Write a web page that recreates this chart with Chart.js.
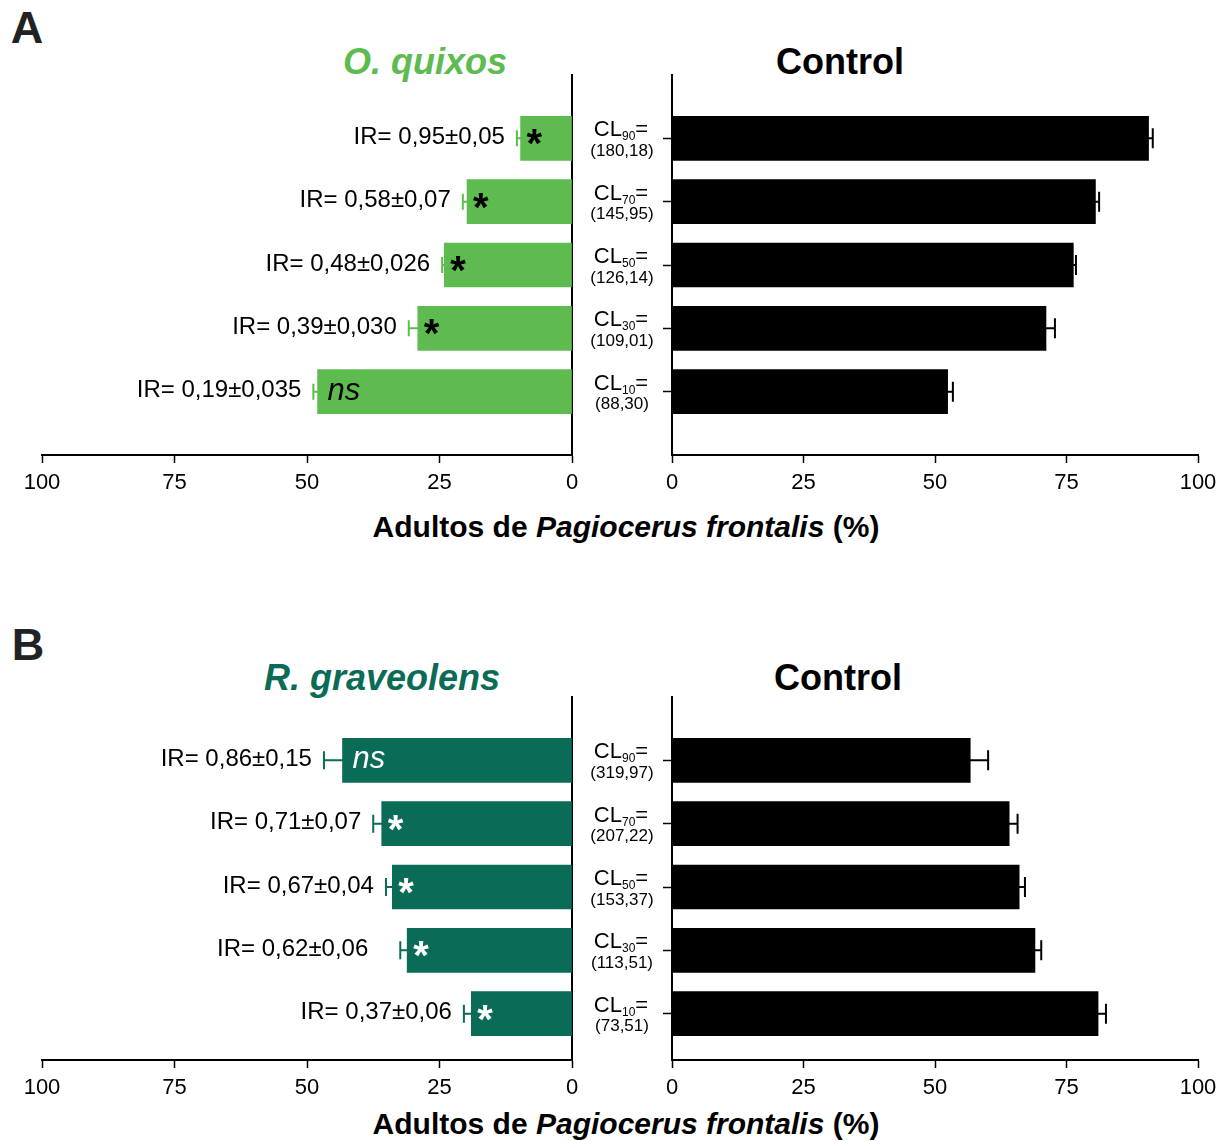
<!DOCTYPE html>
<html>
<head>
<meta charset="utf-8">
<script src="https://cdn.jsdelivr.net/npm/chart.js@4.4.1/dist/chart.umd.min.js"></script>
<style>
  html, body { margin:0; padding:0; background:#fff; }
  body { width:1230px; height:1141px; position:relative; overflow:hidden; font-family:'Liberation Sans', Arial, sans-serif; }
  canvas { position:absolute; }
  .t { position:absolute; transform:translate(-50%,-50%); white-space:nowrap; line-height:1; }
</style>
</head>
<body>
<div class="t" style="left:27px;top:27px;font-size:45px;font-weight:bold;color:#222;">A</div>
<div class="t" style="left:28px;top:644px;font-size:45px;font-weight:bold;color:#222;">B</div>
<div class="t" style="left:425px;top:62px;font-size:36px;font-weight:bold;font-style:italic;color:#5DBB4F;">O. quixos</div>
<div class="t" style="left:840px;top:62px;font-size:36px;font-weight:bold;color:#000;">Control</div>
<div class="t" style="left:382px;top:678px;font-size:36px;font-weight:bold;font-style:italic;color:#0A6B57;">R. graveolens</div>
<div class="t" style="left:838px;top:678px;font-size:36px;font-weight:bold;color:#000;">Control</div>
<div class="t" style="left:626px;top:527px;font-size:30px;font-weight:bold;color:#000;">Adultos de <i>Pagiocerus frontalis</i> (%)</div>
<div class="t" style="left:626px;top:1124px;font-size:30px;font-weight:bold;color:#000;">Adultos de <i>Pagiocerus frontalis</i> (%)</div>

<canvas id="aL" width="600" height="465" style="left:0px;top:40px;"></canvas>
<canvas id="aR" width="658" height="465" style="left:572px;top:40px;"></canvas>
<canvas id="bL" width="600" height="450" style="left:0px;top:660px;"></canvas>
<canvas id="bR" width="658" height="450" style="left:572px;top:660px;"></canvas>

<script>
// ---------- DATA ----------
const clSub = ['90', '70', '50', '30', '10'];
const xTicks = [0, 25, 50, 75, 100];

// Panel A: O. quixos
const clValsA = ['(180,18)', '(145,95)', '(126,14)', '(109,01)', '(88,30)'];
const irA = ['IR= 0,95±0,05', 'IR= 0,58±0,07', 'IR= 0,48±0,026', 'IR= 0,39±0,030', 'IR= 0,19±0,035'];
const sigA = ['*', '*', '*', '*', 'ns'];
const oilA = [9.7, 19.8, 24.1, 29.1, 48.0];
const oilAErr = [0.7, 0.8, 0.4, 1.7, 0.8];
const ctrlA = [90.6, 80.5, 76.3, 71.1, 52.4];
const ctrlAErr = [0.8, 0.7, 0.5, 1.7, 1.0];

// Panel B: R. graveolens
const clValsB = ['(319,97)', '(207,22)', '(153,37)', '(113,51)', '(73,51)'];
const irB = ['IR= 0,86±0,15', 'IR= 0,71±0,07', 'IR= 0,67±0,04', 'IR= 0,62±0,06   ', 'IR= 0,37±0,06'];
const sigB = ['ns', '*', '*', '*', '*'];
const oilB = [43.3, 35.9, 33.9, 31.1, 19.0];
const oilBErr = [3.5, 1.6, 1.2, 1.3, 1.4];
const ctrlB = [56.7, 64.1, 66.0, 69.0, 81.0];
const ctrlBErr = [3.4, 1.6, 1.1, 1.2, 1.5];

// ---------- STYLE ----------
const FONT = "'Liberation Sans', Arial, sans-serif";
const GREEN = '#5DBB4F';
const TEAL = '#0A6B57';

function errPlugin(vals, errs, color, capH) {
  return {
    id: 'err',
    afterDatasetsDraw(chart) {
      const ctx = chart.ctx, xs = chart.scales.x, ys = chart.scales.y;
      ctx.save();
      ctx.strokeStyle = color; ctx.lineWidth = 2;
      vals.forEach((v, i) => {
        const y = ys.getPixelForValue(i + 1);
        const x1 = xs.getPixelForValue(v - errs[i]);
        const x2 = xs.getPixelForValue(v + errs[i]);
        ctx.beginPath();
        ctx.moveTo(x1, y); ctx.lineTo(x2, y);
        ctx.moveTo(x1, y - capH / 2); ctx.lineTo(x1, y + capH / 2);
        ctx.moveTo(x2, y - capH / 2); ctx.lineTo(x2, y + capH / 2);
        ctx.stroke();
      });
      ctx.restore();
    }
  };
}

function leftLabels(vals, errs, ir, sig, sigColor) {
  return {
    id: 'leftLabels',
    afterDatasetsDraw(chart) {
      const ctx = chart.ctx, xs = chart.scales.x, ys = chart.scales.y;
      ctx.save();
      vals.forEach((v, i) => {
        const y = ys.getPixelForValue(i + 1);
        const xCap = xs.getPixelForValue(v + errs[i]);
        const xBar = xs.getPixelForValue(v);
        ctx.fillStyle = '#000';
        ctx.font = '24px ' + FONT;
        ctx.textAlign = 'right'; ctx.textBaseline = 'middle';
        ctx.fillText(ir[i], xCap - 12, y - 1);
        ctx.fillStyle = sigColor;
        ctx.textAlign = 'left'; ctx.textBaseline = 'alphabetic';
        if (sig[i] === '*') {
          ctx.font = 'bold 40px ' + FONT;
          ctx.fillText('*', xBar + 6, y + 19);
        } else {
          ctx.font = 'italic 31px ' + FONT;
          ctx.fillText(sig[i], xBar + 10, y + 8);
        }
      });
      ctx.restore();
    }
  };
}

function clLabels(vals) {
  return {
    id: 'clLabels',
    afterDatasetsDraw(chart) {
      const ctx = chart.ctx, ys = chart.scales.y;
      const cx = chart.chartArea.left - 51;
      ctx.save();
      ctx.fillStyle = '#000';
      vals.forEach((val, i) => {
        const y = ys.getPixelForValue(i + 1);
        ctx.textBaseline = 'alphabetic'; ctx.textAlign = 'left';
        ctx.font = '22px ' + FONT;
        const wCL = ctx.measureText('CL').width, wEq = ctx.measureText('=').width;
        ctx.font = '12px ' + FONT;
        const wSub = ctx.measureText(clSub[i]).width;
        let x = cx - (wCL + wSub + wEq) / 2;
        const base = y - 2;
        ctx.font = '22px ' + FONT; ctx.fillText('CL', x, base); x += wCL;
        ctx.font = '12px ' + FONT; ctx.fillText(clSub[i], x, base + 4); x += wSub;
        ctx.font = '22px ' + FONT; ctx.fillText('=', x, base);
        ctx.font = '17px ' + FONT; ctx.textAlign = 'center'; ctx.textBaseline = 'middle';
        ctx.fillText(val, cx + 1, y + 13);
      });
      ctx.restore();
    }
  };
}

function makeChart(id, vals, color, reverse, yMax, pad, yTicks, plugins) {
  return new Chart(document.getElementById(id), {
    type: 'bar',
    data: {
      datasets: [{
        data: vals.map((v, i) => ({ x: v, y: i + 1 })),
        backgroundColor: color,
        borderWidth: 0,
        barThickness: 44
      }]
    },
    options: {
      indexAxis: 'y',
      responsive: false,
      animation: false,
      events: [],
      layout: { padding: pad },
      plugins: { legend: { display: false }, tooltip: { enabled: false } },
      scales: {
        x: {
          type: 'linear', reverse: reverse, min: 0, max: 100, position: 'bottom',
          afterBuildTicks: s => { s.ticks = xTicks.map(v => ({ value: v })); },
          ticks: { color: '#000', font: { family: FONT, size: 22 }, padding: 7, maxRotation: 0 },
          grid: { drawOnChartArea: false, drawTicks: true, tickLength: 8, tickColor: '#000', tickWidth: 1.5 },
          border: { display: true, color: '#000', width: 2 },
          afterFit: s => { s.height = 50; }
        },
        y: {
          type: 'linear', reverse: true, min: 0, max: yMax, offset: false,
          position: reverse ? 'right' : 'left',
          afterBuildTicks: s => { s.ticks = vals.map((v, i) => ({ value: i + 1 })); },
          ticks: { display: false },
          grid: { display: yTicks, offset: false, drawOnChartArea: false, drawTicks: true, tickLength: 9, tickColor: '#000', tickWidth: 1.5 },
          border: { display: true, color: '#000', width: 2 },
          afterFit: s => { s.width = 0; }
        }
      }
    },
    plugins: plugins
  });
}

makeChart('aL', oilA, GREEN, true, 6, { left: 42, right: 28, top: 35, bottom: 0 }, false,
  [errPlugin(oilA, oilAErr, GREEN, 16), leftLabels(oilA, oilAErr, irA, sigA, '#000')]);
makeChart('aR', ctrlA, '#000', false, 6, { left: 100, right: 32, top: 35, bottom: 0 }, true,
  [errPlugin(ctrlA, ctrlAErr, '#000', 20), clLabels(clValsA)]);
makeChart('bL', oilB, TEAL, true, 363 / (380 / 6), { left: 42, right: 28, top: 37, bottom: 0 }, false,
  [errPlugin(oilB, oilBErr, TEAL, 18), leftLabels(oilB, oilBErr, irB, sigB, '#fff')]);
makeChart('bR', ctrlB, '#000', false, 363 / (380 / 6), { left: 100, right: 32, top: 37, bottom: 0 }, true,
  [errPlugin(ctrlB, ctrlBErr, '#000', 20), clLabels(clValsB)]);
</script>
</body>
</html>
